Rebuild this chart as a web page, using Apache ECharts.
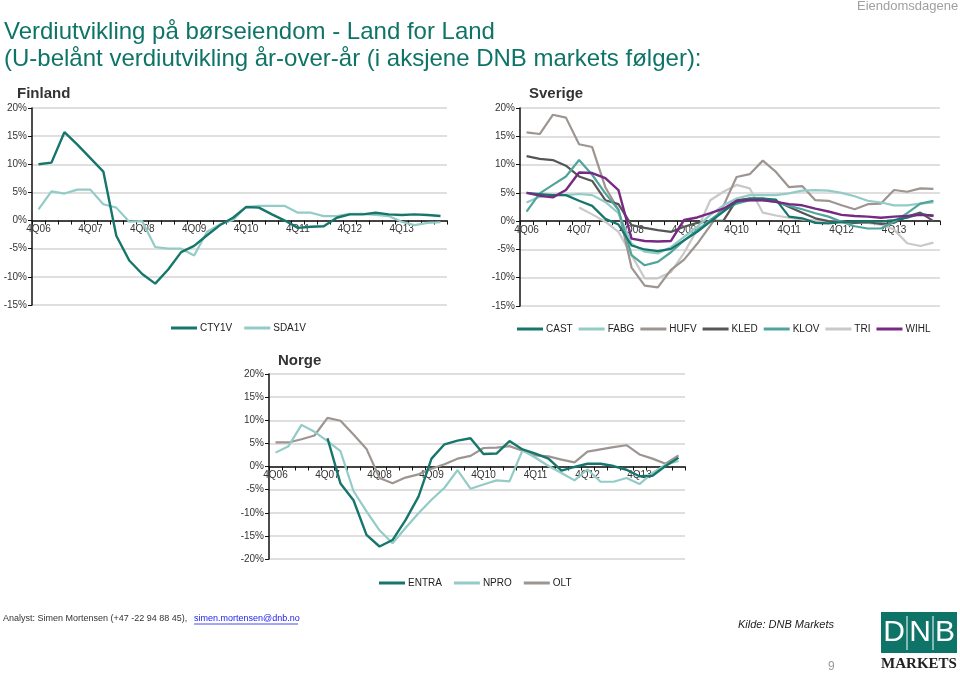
<!DOCTYPE html>
<html>
<head>
<meta charset="utf-8">
<script src="https://cdn.jsdelivr.net/npm/echarts@6/dist/echarts.min.js"></script>
<style>
html,body{margin:0;padding:0;background:#fff;}
#chart{width:960px;height:673px;}
</style>
</head>
<body>
<div id="chart"></div>
<script>
// ---- data ----
var quarters = ['4Q06','1Q07','2Q07','3Q07','4Q07','1Q08','2Q08','3Q08','4Q08','1Q09','2Q09','3Q09','4Q09','1Q10','2Q10','3Q10','4Q10','1Q11','2Q11','3Q11','4Q11','1Q12','2Q12','3Q12','4Q12','1Q13','2Q13','3Q13','4Q13','1Q14','2Q14','3Q14'];

var CTY1V = [10.0, 10.3, 15.7, 13.5, 11.1, 8.7, -2.7, -7.1, -9.5, -11.2, -8.7, -5.6, -4.5, -2.6, -0.8, 0.5, 2.4, 2.3, 1.1, 0.0, -1.3, -1.1, -1.0, 0.5, 1.1, 1.1, 1.4, 1.1, 1.0, 1.1, 1.0, 0.8];
var SDA1V = [2.0, 5.2, 4.8, 5.5, 5.5, 2.9, 2.3, -0.2, -0.1, -4.7, -5.0, -5.0, -6.2, -2.0, -0.7, 0.1, 2.4, 2.6, 2.6, 2.6, 1.4, 1.4, 0.8, 0.8, 1.2, 1.2, 1.0, 0.8, -0.2, -0.8, -0.4, -0.3];

var CAST = [5.0, 4.8, 4.6, 4.6, 3.6, 2.7, 0.4, -0.6, -4.3, -5.0, -5.3, -4.9, -3.4, -1.9, -0.1, 1.7, 3.4, 4.0, 4.0, 3.8, 0.8, 0.5, -0.3, -0.4, -0.2, -0.1, 0.0, -0.1, 0.2, 0.6, 1.3, 0.9];
var FABG = [3.3, 4.3, 4.7, 4.6, 4.8, 4.6, 3.4, 1.4, -4.0, -5.4, -5.7, -4.6, -2.8, -1.0, 1.1, 2.8, 4.0, 4.6, 4.6, 4.6, 4.9, 5.4, 5.5, 5.4, 5.0, 4.4, 3.6, 3.3, 2.8, 2.8, 3.1, 3.3];
var HUFV = [15.7, 15.4, 18.8, 18.3, 13.6, 13.1, 6.0, 2.0, -8.2, -11.4, -11.7, -8.6, -6.8, -4.0, -0.8, 2.7, 7.8, 8.3, 10.7, 8.7, 6.0, 6.2, 3.7, 3.6, 2.8, 2.1, 3.0, 3.1, 5.5, 5.2, 5.8, 5.7];
var KLED = [11.5, 11.0, 10.8, 9.8, 7.9, 7.1, 3.7, 3.0, -0.7, -1.2, -1.6, -1.9, -1.0, -0.3, 0.0, 0.1, 3.7, 4.0, 4.0, 3.6, 2.5, 1.5, 0.5, 0.0, -0.2, -0.3, -0.2, -0.5, -0.3, 0.8, 1.5, 0.0];
var KLOV = [1.7, 4.9, 6.4, 7.9, 10.8, 8.2, 4.9, 2.0, -6.0, -7.8, -7.2, -5.5, -3.4, -1.6, 0.2, 1.9, 3.1, 3.7, 3.7, 3.4, 2.7, 2.1, 1.4, 0.8, -0.1, -0.9, -1.3, -1.3, -0.1, 1.4, 3.1, 3.6];
var TRI = [null, null, null, null, 2.4, 1.2, -0.1, -1.9, -6.0, -10.1, -10.1, -9.0, -5.6, -1.5, 3.7, 5.2, 6.4, 5.8, 1.5, 1.0, 0.6, 0.3, 0.1, 0.0, -0.1, -0.3, -0.3, -0.6, -1.5, -3.9, -4.4, -3.8];
var WIHL = [5.0, 4.5, 4.2, 5.5, 8.6, 8.5, 7.6, 5.5, -3.1, -3.5, -3.6, -3.5, 0.2, 0.65, 1.4, 2.2, 3.6, 3.7, 3.7, 3.4, 3.0, 2.8, 2.2, 1.7, 1.1, 0.9, 0.8, 0.6, 0.8, 0.9, 1.1, 1.0];

var ENTRA = [null, null, null, null, 6.1, -3.7, -7.3, -14.8, -17.3, -15.9, -11.6, -6.5, 1.7, 4.8, 5.6, 6.1, 2.7, 2.8, 5.5, 3.7, 2.8, 1.7, -0.9, -0.1, 0.6, 0.6, 0.1, -0.7, -2.1, -2.0, 0.1, 1.9];
var NPRO = [3.0, 4.4, 9.0, 7.5, 5.5, 3.3, -5.3, -9.7, -13.8, -16.6, -13.3, -10.1, -7.2, -4.6, -0.8, -4.8, -3.9, -3.0, -3.2, 3.5, 1.9, 0.1, -1.4, -3.0, -0.6, -3.3, -3.3, -2.5, -3.8, -1.4, 0.4, 1.2];
var OLT = [5.2, 5.2, 5.9, 6.7, 10.5, 9.9, 6.9, 3.8, -2.5, -3.6, -2.4, -1.7, -0.5, 0.5, 1.7, 2.3, 4.0, 4.1, 4.4, 3.4, 2.4, 2.2, 1.5, 0.9, 3.2, 3.7, 4.2, 4.6, 2.6, 1.7, 0.6, 2.4];

// ---- style ----
var FONT = '"Liberation Sans", Arial, sans-serif';
var C_DARK = '#16766b', C_LIGHT = '#93cbc6', C_BROWN = '#9d9591', C_KLED = '#565656',
    C_KLOV = '#4fa59b', C_TRI = '#c9c9c9', C_WIHL = '#762a82';

var grids = [
  {left: 32, top: 108, width: 415, height: 197, min: -15, max: 20},
  {left: 520, top: 108, width: 420, height: 198, min: -15, max: 20},
  {left: 269, top: 374, width: 416, height: 185, min: -20, max: 20}
];

var chart = echarts.init(document.getElementById('chart'), null, {renderer: 'canvas'});

function xAx(gi) {
  var g = grids[gi];
  // place the category axis (line + labels) on the 0% line
  var off = -g.height * (0 - g.min) / (g.max - g.min);
  return {
    type: 'category', gridIndex: gi, data: quarters, boundaryGap: true,
    position: 'bottom', offset: off,
    axisLine: {onZero: false, lineStyle: {color: '#111', width: 1.5}},
    axisTick: {show: true, interval: 0, length: 4, lineStyle: {color: '#111', width: 1}},
    axisLabel: {interval: 3, fontSize: 10, color: '#333', fontFamily: FONT, margin: 4},
    splitLine: {show: false}
  };
}
function yAx(gi) {
  var g = grids[gi];
  return {
    type: 'value', gridIndex: gi, min: g.min, max: g.max, interval: 5,
    axisLine: {show: true, lineStyle: {color: '#111', width: 1.5}},
    axisTick: {show: true, length: 4, lineStyle: {color: '#111'}},
    axisLabel: {formatter: '{value}%', fontSize: 10, color: '#333', fontFamily: FONT, margin: 5},
    splitLine: {show: true, lineStyle: {color: '#d5d5d5', width: 1.5}}
  };
}
function ln(name, data, gi, color, w) {
  return {
    name: name, type: 'line', data: data, xAxisIndex: gi, yAxisIndex: gi,
    showSymbol: false, symbol: 'none', connectNulls: false, animation: false,
    lineStyle: {color: color, width: w || 2.2}, itemStyle: {color: color}, z: 3
  };
}
function leg(names, left, top, gap) {
  return {
    data: names, left: left, top: top, orient: 'horizontal',
    icon: 'rect', itemWidth: 26, itemHeight: 3, itemGap: gap,
    textStyle: {fontSize: 10, color: '#222', fontFamily: FONT, padding: [0, 0, 0, -2]},
    selectedMode: false
  };
}

var option = {
  backgroundColor: '#fff',
  animation: false,
  grid: grids.map(function (g) { return {left: g.left, top: g.top, width: g.width, height: g.height}; }),
  xAxis: [xAx(0), xAx(1), xAx(2)],
  yAxis: [yAx(0), yAx(1), yAx(2)],
  legend: [
    leg(['CTY1V', 'SDA1V'], 166, 318, 12),
    leg(['CAST', 'FABG', 'HUFV', 'KLED', 'KLOV', 'TRI', 'WIHL'], 512, 319, 6),
    leg(['ENTRA', 'NPRO', 'OLT'], 374, 573, 12)
  ],
  series: [
    ln('SDA1V', SDA1V, 0, C_LIGHT, 2.2),
    ln('CTY1V', CTY1V, 0, C_DARK, 2.4),
    ln('TRI', TRI, 1, C_TRI, 2.2),
    ln('HUFV', HUFV, 1, C_BROWN, 2.2),
    ln('KLED', KLED, 1, C_KLED, 2.2),
    ln('FABG', FABG, 1, C_LIGHT, 2.2),
    ln('KLOV', KLOV, 1, C_KLOV, 2.2),
    ln('CAST', CAST, 1, C_DARK, 2.2),
    ln('WIHL', WIHL, 1, C_WIHL, 2.4),
    ln('OLT', OLT, 2, C_BROWN, 2.2),
    ln('NPRO', NPRO, 2, C_LIGHT, 2.2),
    ln('ENTRA', ENTRA, 2, C_DARK, 2.4)
  ],
  graphic: [
    {type: 'text', left: 857, top: 0, style: {text: 'Eiendomsdagene', font: '13px ' + FONT, fill: '#a0a0a0'}},
    {type: 'text', left: 4, top: 20, style: {text: 'Verdiutvikling på børseiendom - Land for Land', font: '24px ' + FONT, fill: '#0f7468'}},
    {type: 'text', left: 4, top: 47, style: {text: '(U-belånt verdiutvikling år-over-år (i aksjene DNB markets følger):', font: '24px ' + FONT, fill: '#0f7468'}},
    {type: 'text', left: 17, top: 86, style: {text: 'Finland', font: 'bold 15px ' + FONT, fill: '#333'}},
    {type: 'text', left: 529, top: 86, style: {text: 'Sverige', font: 'bold 15px ' + FONT, fill: '#333'}},
    {type: 'text', left: 278, top: 353, style: {text: 'Norge', font: 'bold 15px ' + FONT, fill: '#333'}},
    {type: 'text', left: 3, top: 614, style: {text: 'Analyst: Simen Mortensen (+47 -22 94 88 45), ', font: '9px ' + FONT, fill: '#333'}},
    {type: 'text', left: 194, top: 614, style: {text: 'simen.mortensen@dnb.no', font: '9px ' + FONT, fill: '#1a1aee'}},
    {type: 'line', shape: {x1: 194, y1: 624, x2: 298, y2: 624}, style: {stroke: '#1a1aee', lineWidth: 0.8}},
    {type: 'text', left: 738, top: 619, style: {text: 'Kilde: DNB Markets', font: 'italic 11px ' + FONT, fill: '#222'}},
    {type: 'text', left: 828, top: 661, style: {text: '9', font: '12px ' + FONT, fill: '#9a9a9a'}},
    {type: 'rect', shape: {x: 881, y: 612, width: 76, height: 41}, style: {fill: '#0f7468'}},
    {type: 'text', x: 894, y: 633, style: {text: 'D', font: '30px ' + FONT, fill: '#fff', textAlign: 'center', textVerticalAlign: 'middle'}},
    {type: 'text', x: 920, y: 633, style: {text: 'N', font: '30px ' + FONT, fill: '#fff', textAlign: 'center', textVerticalAlign: 'middle'}},
    {type: 'text', x: 945, y: 633, style: {text: 'B', font: '30px ' + FONT, fill: '#fff', textAlign: 'center', textVerticalAlign: 'middle'}},
    {type: 'line', shape: {x1: 907, y1: 616, x2: 907, y2: 650}, style: {stroke: '#fff', lineWidth: 1}},
    {type: 'line', shape: {x1: 933, y1: 616, x2: 933, y2: 650}, style: {stroke: '#fff', lineWidth: 1}},
    {type: 'text', x: 919, y: 664, style: {text: 'MARKETS', font: 'bold 15px "Liberation Serif", serif', fill: '#222', textAlign: 'center', textVerticalAlign: 'middle'}}
  ]
};
chart.setOption(option);
</script>
</body>
</html>
